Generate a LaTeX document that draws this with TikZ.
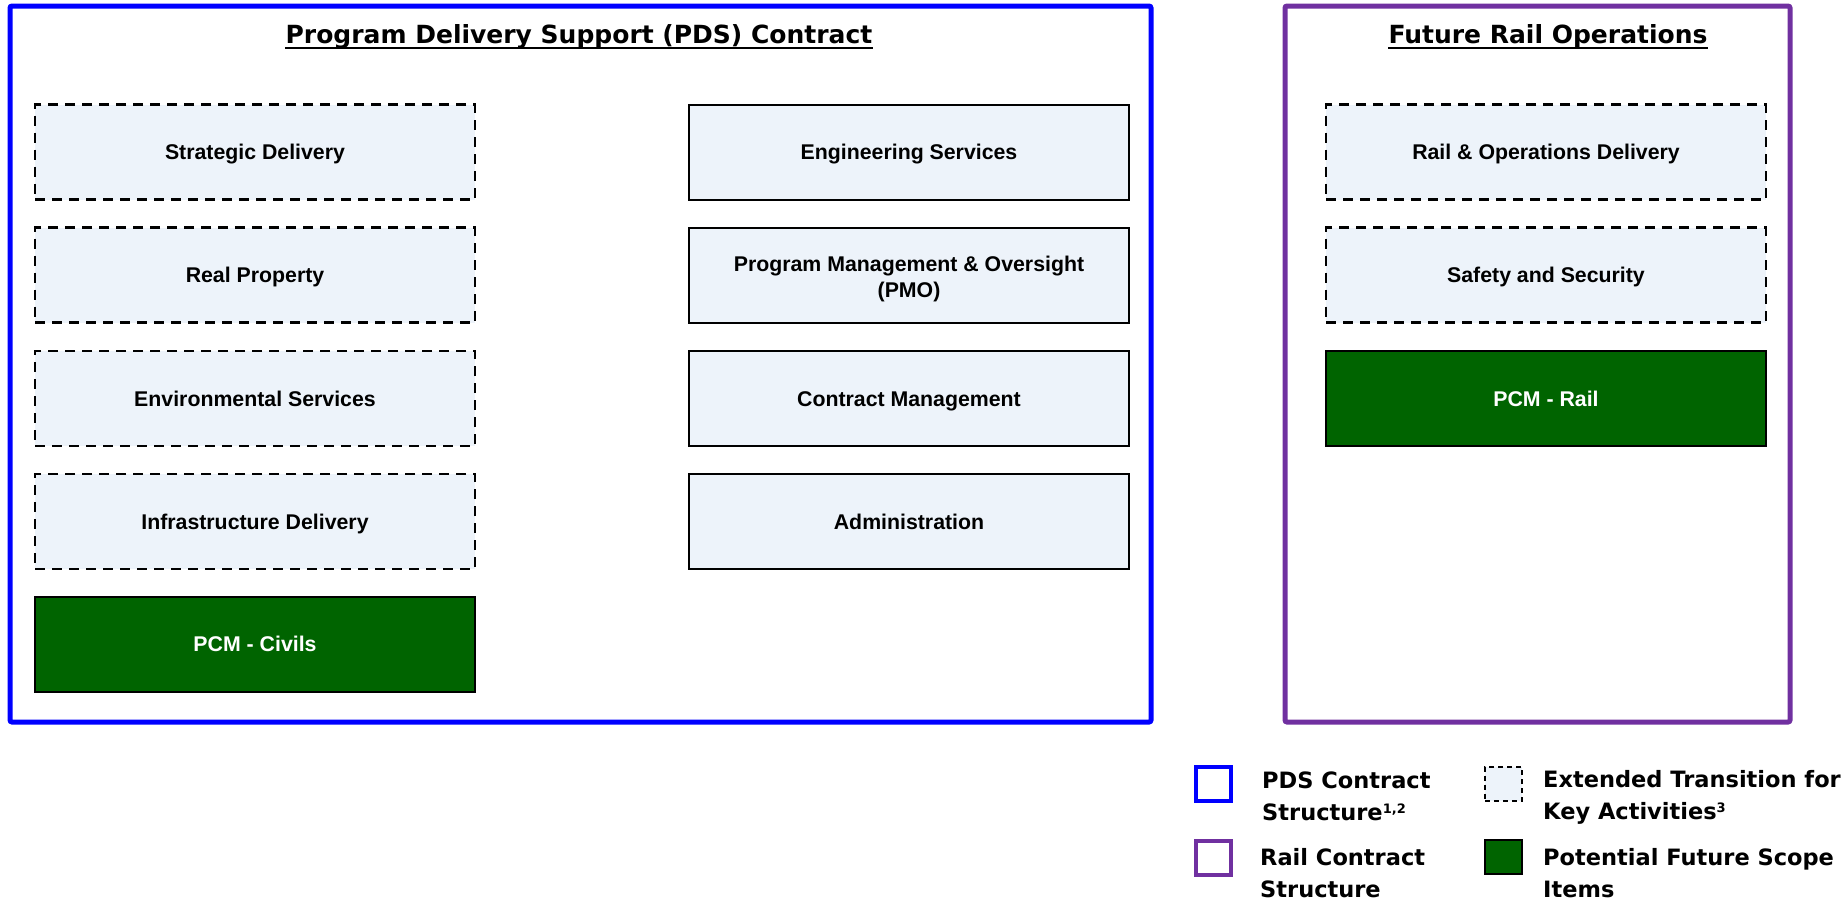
\documentclass[tikz,border=0pt]{standalone}
\usepackage{fontspec}
\setmainfont{Liberation Sans}
\newfontfamily\gillfont{DejaVu Sans}
\definecolor{pdsblue}{RGB}{0,0,255}
\definecolor{railpurple}{RGB}{112,48,160}
\definecolor{boxfill}{RGB}{237,243,250}
\definecolor{pgreen}{RGB}{0,100,0}
\newcommand\legsup[1]{{\fontsize{13}{13}\selectfont\raisebox{7pt}{#1}}}
\begin{document}
\begin{tikzpicture}[x=1pt,y=-1pt,
  frame/.style={line width=5pt, rounded corners=2pt, inner sep=0pt},
  solidbox/.style={draw=black, line width=2pt, fill=boxfill, minimum width=440pt, minimum height=95pt,
    inner sep=0pt, text height=15.3pt, text depth=0pt, font=\fontsize{21.3}{26}\selectfont\bfseries},
  dashbox/.style={solidbox, line width=2.5pt, dash pattern=on 10pt off 7pt},
  greenbox/.style={solidbox, fill=pgreen, text=white},
  titletext/.style={inner sep=0pt, anchor=base, font=\gillfont\fontsize{25}{28}\selectfont\bfseries},
  uline/.style={line width=2pt},
  legendtext/.style={inner sep=0pt, anchor=base west, font=\gillfont\fontsize{22.5}{32}\selectfont\bfseries},
  legsq/.style={inner sep=0pt, minimum width=35pt, minimum height=34pt}
]
\useasboundingbox (0,0) rectangle (1843,900);

% frames
\node[frame, draw=pdsblue, minimum width=1141pt, minimum height=716pt] (pds) at (580.5,364) {};
\node[frame, draw=railpurple, minimum width=505pt, minimum height=716pt] (rail) at (1537.5,364) {};

% titles
\node[titletext] (pdstitle) at (579,43) {Program Delivery Support (PDS) Contract};
\draw[uline] ([yshift=-5pt]pdstitle.base west) -- ([yshift=-5pt]pdstitle.base east);
\node[titletext] (railtitle) at (1548,43) {Future Rail Operations};
\draw[uline] ([yshift=-5pt]railtitle.base west) -- ([yshift=-5pt]railtitle.base east);

% left column
\node[dashbox] (sd) at (255,152) {Strategic Delivery};
\node[dashbox] (rp) at (255,275) {Real Property};
\node[dashbox] (es) at (255,398.5) {Environmental Services};
\node[dashbox] (id) at (255,521.5) {Infrastructure Delivery};
\node[greenbox] (pcmc) at (255,644) {PCM - Civils};

% middle column
\node[solidbox] (eng) at (909,152) {Engineering Services};
\node[solidbox, text height=15pt, text depth=23pt] (pmo) at (909,275)
  {\begin{tabular}[t]{@{}c@{}}Program Management \& Oversight\\(PMO)\end{tabular}};
\node[solidbox] (cm) at (909,398.5) {Contract Management};
\node[solidbox] (adm) at (909,521.5) {Administration};

% right column
\node[dashbox] (rod) at (1546,152) {Rail \& Operations Delivery};
\node[dashbox] (ss) at (1546,275) {Safety and Security};
\node[greenbox] (pcmr) at (1546,398.5) {PCM - Rail};

% legend
\node[legsq, draw=pdsblue, line width=4pt] (lgpds) at (1213.5,783.5) {};
\node[legsq, draw=railpurple, line width=4pt] (lgrail) at (1213.5,857.5) {};
\node[legsq, draw=black, fill=boxfill, line width=2pt, dash pattern=on 5pt off 4pt, minimum width=37pt] (lgext) at (1503.5,783.5) {};
\node[legsq, draw=black, fill=pgreen, line width=2pt, minimum width=37pt] (lgfut) at (1503.5,856.5) {};

\node[legendtext] (ltpds) at (1262,788) {\begin{tabular}[t]{@{}l@{}}PDS Contract\\Structure\legsup{1,2}\end{tabular}};
\node[legendtext] (ltrail) at (1260,865) {\begin{tabular}[t]{@{}l@{}}Rail Contract\\Structure\end{tabular}};
\node[legendtext] (ltext) at (1543,787) {\begin{tabular}[t]{@{}l@{}}Extended Transition for\\Key Activities\legsup{3}\end{tabular}};
\node[legendtext] (ltfut) at (1543,865) {\begin{tabular}[t]{@{}l@{}}Potential Future Scope\\Items\end{tabular}};
\end{tikzpicture}
\end{document}
